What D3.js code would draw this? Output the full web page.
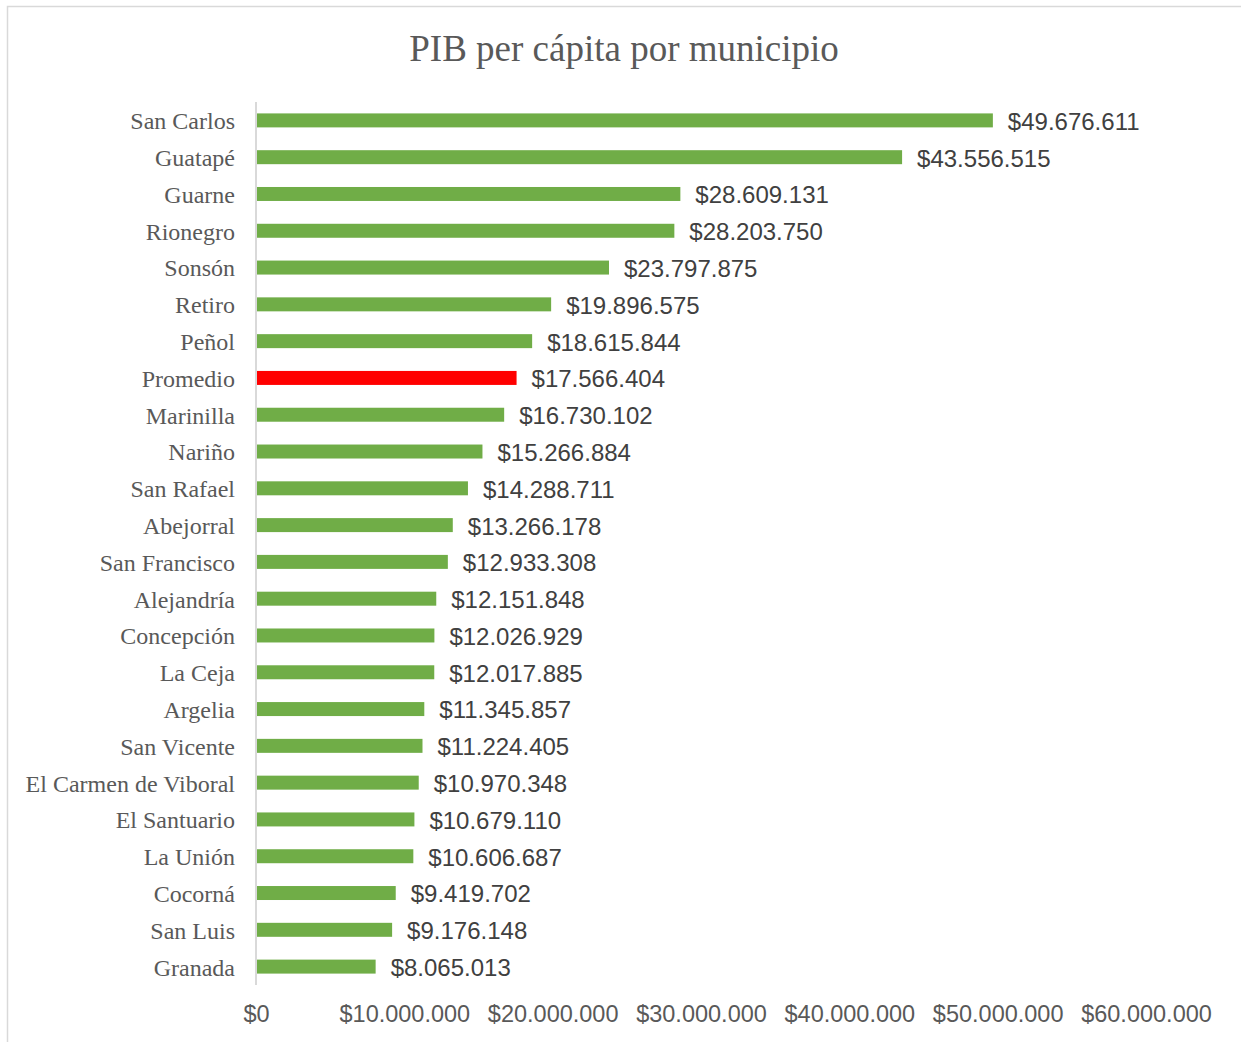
<!DOCTYPE html>
<html>
<head>
<meta charset="utf-8">
<title>PIB per cápita por municipio</title>
<script src="https://cdnjs.cloudflare.com/ajax/libs/d3/7.8.5/d3.min.js"></script>
<style>
  body { margin: 0; background: #fff; }
</style>
</head>
<body>
<script>
// data, top to bottom as in the chart
var municipios = ["San Carlos", "Guatapé", "Guarne", "Rionegro", "Sonsón", "Retiro", "Peñol",
  "Promedio", "Marinilla", "Nariño", "San Rafael", "Abejorral", "San Francisco", "Alejandría",
  "Concepción", "La Ceja", "Argelia", "San Vicente", "El Carmen de Viboral", "El Santuario",
  "La Unión", "Cocorná", "San Luis", "Granada"];
var pibPerCapita = [49676611, 43556515, 28609131, 28203750, 23797875, 19896575, 18615844,
  17566404, 16730102, 15266884, 14288711, 13266178, 12933308, 12151848,
  12026929, 12017885, 11345857, 11224405, 10970348, 10679110,
  10606687, 9419702, 9176148, 8065013];
var ticks = [0, 10000000, 20000000, 30000000, 40000000, 50000000, 60000000];

var width = 1241, height = 1042;
var x0 = 256, x1 = 1146, yTop = 102, yBot = 985;

var svg = d3.select("body").append("svg")
  .attr("width", width)
  .attr("height", height);

svg.append("rect")
  .attr("x", 7.5).attr("y", 6.5)
  .attr("width", 1260).attr("height", 1060)
  .attr("fill", "#fff")
  .attr("stroke", "#d9d9d9")
  .attr("stroke-width", 1.5);

// money format with dots as thousand separators
var loc = d3.formatLocale({ decimal: ",", thousands: ".", grouping: [3], currency: ["$", ""] });
var money = loc.format("$,.0f");

var x = d3.scaleLinear().domain([0, 60000000]).range([x0, x1]);
var y = d3.scaleBand().domain(municipios).range([yTop, yBot]).paddingInner(0.62).paddingOuter(0.31);

svg.append("text")
  .attr("x", 624).attr("y", 61)
  .attr("text-anchor", "middle")
  .attr("font-family", "'Liberation Serif', 'Times New Roman', serif")
  .attr("font-size", "37px")
  .attr("fill", "#595959")
  .text("PIB per cápita por municipio");

// bars
svg.selectAll(".bar")
  .data(municipios)
  .enter().append("rect")
  .attr("class", "bar")
  .attr("x", x(0))
  .attr("y", function(d) { return y(d); })
  .attr("height", y.bandwidth())
  .attr("width", function(d, i) { return x(pibPerCapita[i]) - x(0); })
  .attr("fill", function(d) { return d == "Promedio" ? "#ff0000" : "#70ad47"; });

// vertical axis line
svg.append("line")
  .attr("x1", x0).attr("x2", x0)
  .attr("y1", yTop).attr("y2", yBot)
  .attr("stroke", "#d9d9d9").attr("stroke-width", 2);

// category labels
svg.selectAll(".cat")
  .data(municipios)
  .enter().append("text")
  .attr("class", "cat")
  .attr("x", 235)
  .attr("y", function(d) { return y(d) + y.bandwidth() / 2 + 1; })
  .attr("dy", "0.33em")
  .attr("text-anchor", "end")
  .attr("font-family", "'Liberation Serif', 'Times New Roman', serif")
  .attr("font-size", "24px")
  .attr("fill", "#595959")
  .text(function(d) { return d; });

// value labels
svg.selectAll(".val")
  .data(municipios)
  .enter().append("text")
  .attr("class", "val")
  .attr("x", function(d, i) { return x(pibPerCapita[i]) + 15; })
  .attr("y", function(d) { return y(d) + y.bandwidth() / 2 + 1; })
  .attr("dy", "0.35em")
  .attr("font-family", "'Liberation Sans', Arial, sans-serif")
  .attr("font-size", "24px")
  .attr("fill", "#404040")
  .text(function(d, i) { return money(pibPerCapita[i]); });

// x axis, labels only
var xAxis = d3.axisBottom(x).tickValues(ticks).tickFormat(money).tickSize(0).tickPadding(0);
var gx = svg.append("g")
  .attr("transform", "translate(0,1014)")
  .call(xAxis);
gx.select(".domain").remove();
gx.selectAll("text")
  .attr("dy", "0.35em")
  .attr("font-family", "'Liberation Sans', Arial, sans-serif")
  .attr("font-size", "23.5px")
  .attr("fill", "#595959");
</script>
</body>
</html>
